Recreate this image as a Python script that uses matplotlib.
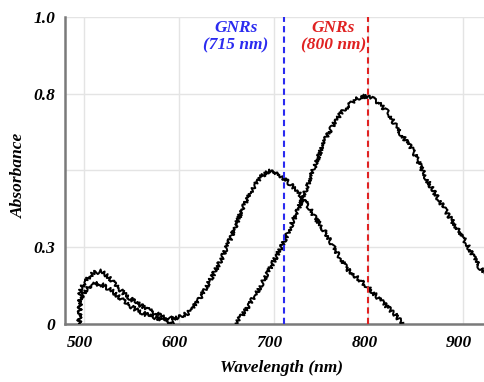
import numpy as np
import matplotlib
matplotlib.use("Agg")
import matplotlib.pyplot as plt
import matplotlib.transforms as mtransforms

# ---- data ----
wl_a = [495, 496, 500, 505, 510, 518, 525, 535, 545, 555, 565, 575, 585, 592, 600,
        610, 620, 633, 645, 655, 668, 678, 686, 696, 705, 712, 721, 731, 743, 756,
        767, 777, 788, 799, 810, 820, 828, 836]
abs_a = [0.0, 0.11, 0.13, 0.15, 0.165, 0.17, 0.155, 0.12, 0.09, 0.068, 0.05, 0.033,
         0.022, 0.017, 0.02, 0.035, 0.07, 0.14, 0.21, 0.28, 0.38, 0.44, 0.477, 0.50,
         0.49, 0.47, 0.445, 0.41, 0.35, 0.29, 0.23, 0.18, 0.15, 0.12, 0.085, 0.054,
         0.03, 0.0]

wl_b = [495, 496, 500, 505, 512, 520, 530, 545, 555, 565, 575, 585, 595, 600,
        660, 670, 678, 686, 698, 710, 720, 731, 743, 756, 767, 777, 786, 793, 800,
        809, 820, 834, 847, 862, 875, 890, 900, 910, 918, 925]
abs_b = [0.0, 0.08, 0.10, 0.12, 0.13, 0.125, 0.105, 0.065, 0.045, 0.03, 0.02, 0.008,
         0.0, np.nan,
         0.0, 0.04, 0.08, 0.12, 0.19, 0.26, 0.33, 0.41, 0.51, 0.61, 0.67, 0.705,
         0.73, 0.74, 0.742, 0.725, 0.69, 0.62, 0.565, 0.467, 0.40, 0.327, 0.28,
         0.225, 0.18, 0.16]

peak_lines = [711, 800]
peak_labels = ["GNRs\n(715 nm)", "GNRs\n(800 nm)"]
peak_colors = ["#2b2bf0", "#e02222"]

x_ticks = [500, 600, 700, 800, 900]
x_ticklabels = ["500", "600", "700", "800", "900"]
y_ticks = [0, 0.25, 0.5, 0.75, 1.0]
y_ticklabels = ["0", "0.3", "", "0.8", "1.0"]

# ---- figure ----
font = dict(family="Liberation Serif", weight="bold", style="italic")
fig = plt.figure(figsize=(4.84, 3.82), dpi=100)
ax = fig.add_axes([65/484, 1-323.5/382, 1-65/484, (323.5-17)/382])

for wl, ab in ((wl_a, abs_a), (wl_b, abs_b)):
    ln, = ax.plot(wl, ab, color="black", lw=1.4, zorder=3)
    ln.set_sketch_params(scale=2.0, length=1.5, randomness=8)

label_dx = [-48, -35]  # pixel offsets of the label centres from the lines
for xv, lab, c, dx in zip(peak_lines, peak_labels, peak_colors, label_dx):
    ax.axvline(xv, color=c, lw=1.5, ls=(0, (3, 2)), zorder=4)
    tr = ax.transData + mtransforms.ScaledTranslation(dx/100, 0, fig.dpi_scale_trans)
    t = ax.text(xv, 0.99, lab, color=c, ha="center", va="top",
                fontsize=12.5, linespacing=1.1, **font)
    t.set_transform(mtransforms.blended_transform_factory(tr, ax.transAxes))

ax.set_xlim(480, 922)
ax.set_ylim(0, 1.0)
ax.set_xticks(x_ticks)
ax.set_xticklabels(x_ticklabels)
ax.set_yticks(y_ticks)
ax.set_yticklabels(y_ticklabels)
for t in ax.get_xticklabels() + ax.get_yticklabels():
    t.set_fontfamily("Liberation Serif")
    t.set_fontweight("bold")
    t.set_fontstyle("italic")
    t.set_fontsize(12.5)
ax.tick_params(length=0)
ax.tick_params(axis="x", pad=8)
ax.tick_params(axis="y", pad=7)
off = mtransforms.ScaledTranslation(-4/100, 0, fig.dpi_scale_trans)
for t in ax.get_xticklabels():
    t.set_transform(t.get_transform() + off)

ax.grid(True, color="#e4e4e4", lw=1.0, zorder=0)
ax.set_axisbelow(True)
for s in ("top", "right"):
    ax.spines[s].set_visible(False)
for s in ("left", "bottom"):
    ax.spines[s].set_color("#7a7a7a")
    ax.spines[s].set_linewidth(1.8)

fig.text(282/484, 1-368/382, "Wavelength (nm)", ha="center", va="center",
         fontsize=12.5, **font)
fig.text(19/484, 1-175/382, "Absorbance", ha="center", va="center",
         rotation=90, fontsize=12.5, **font)

fig.savefig("out.png", dpi=100)
